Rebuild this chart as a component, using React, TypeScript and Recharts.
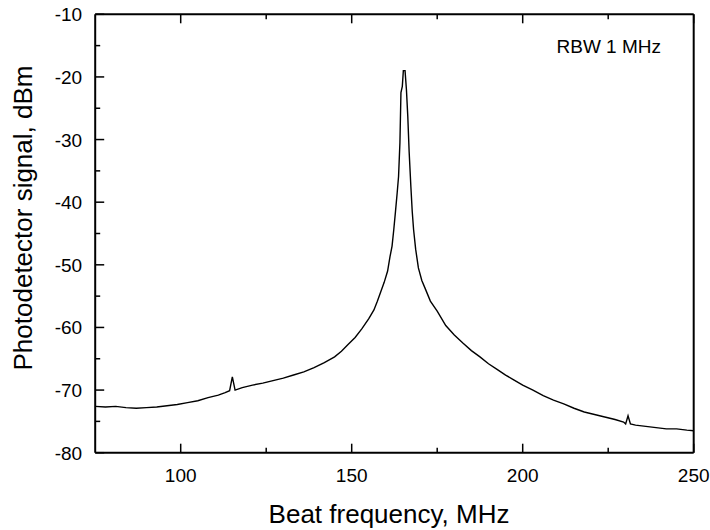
import React from "react";
import { LineChart, Line, XAxis, YAxis } from "recharts";

// beat frequency, MHz
const freq = [
  75, 78, 81, 84, 87, 90, 93, 96, 99, 102, 105, 108, 111, 113, 114.3, 115.1, 115.9, 118, 121, 124,
  127, 130, 133, 136, 139, 142, 145, 147, 149, 151, 153, 155, 156.5, 157.5, 158.5, 159.5, 160.5,
  161.2, 161.8, 162.3, 162.8, 163.3, 163.7, 164.1, 164.4, 164.8, 165.1, 165.6, 166.0, 166.4, 166.8,
  167.3, 167.7, 168.1, 168.7, 169.5, 170.5, 171.5, 173, 175, 177.5, 180, 182.5, 185, 187.5, 190,
  192.5, 195, 197.5, 200, 203, 206, 209, 212, 215, 218, 221, 224, 227, 229.5, 230.1, 230.8, 231.5,
  233, 236, 239, 242, 245, 248, 250,
];

// photodetector signal, dBm
const signal = [
  -72.6, -72.7, -72.6, -72.8, -72.9, -72.8, -72.7, -72.5, -72.3, -72.0, -71.7, -71.2, -70.8, -70.4,
  -70.1, -67.9, -70.0, -69.6, -69.2, -68.9, -68.5, -68.1, -67.6, -67.1, -66.4, -65.6, -64.7, -63.8,
  -62.7, -61.6, -60.2, -58.6, -57.2, -55.8, -54.3, -52.8, -51.0, -48.7, -47.0, -44.4, -41.5, -38.5,
  -35.9, -30.5, -22.5, -21.5, -19.0, -19.0, -22.0, -26.3, -32.0, -37.5, -41.5, -44.4, -47.5, -50.5,
  -52.5, -53.8, -55.8, -57.4, -59.7, -61.2, -62.5, -63.7, -64.7, -65.8, -66.7, -67.6, -68.4, -69.2,
  -70.0, -70.9, -71.6, -72.2, -72.9, -73.5, -73.9, -74.3, -74.7, -75.1, -75.4, -74.1, -75.4, -75.6,
  -75.8, -76.0, -76.2, -76.2, -76.4, -76.5,
];

const xTicks = [100, 125, 150, 175, 200, 225, 250];
const xLabelTicks = [100, 150, 200, 250];
const yTicks = [-80, -75, -70, -65, -60, -55, -50, -45, -40, -35, -30, -25, -20, -15, -10];
const yLabelTicks = [-80, -70, -60, -50, -40, -30, -20, -10];

const rows = freq.map((f, i) => ({ f, v: signal[i] }));

const FONT = '"Liberation Sans", Arial, sans-serif';
const MAJOR = 9;
const MINOR = 5;

function XTick({ x, y, payload, top }: any) {
  const major = xLabelTicks.includes(payload.value);
  const len = major ? MAJOR : MINOR;
  const y2 = top ? y + len : y - len;
  return (
    <g>
      <line x1={x} y1={y} x2={x} y2={y2} stroke="#000" strokeWidth={1.5} />
      {!top && major && (
        <text x={x} y={y + 29} textAnchor="middle" fontSize={19} fontFamily={FONT} fill="#000">
          {payload.value}
        </text>
      )}
    </g>
  );
}

function YTick({ x, y, payload, right }: any) {
  const major = yLabelTicks.includes(payload.value);
  const len = major ? MAJOR : MINOR;
  const x2 = right ? x - len : x + len;
  return (
    <g>
      <line x1={x} y1={y} x2={x2} y2={y} stroke="#000" strokeWidth={1.5} />
      {!right && major && (
        <text x={x - 13} y={y + 7} textAnchor="end" fontSize={19} fontFamily={FONT} fill="#000">
          {payload.value}
        </text>
      )}
    </g>
  );
}

export default function App() {
  return (
    <div style={{ position: "absolute", left: 0, top: 0 }}>
      <LineChart
        width={710}
        height={530}
        data={rows}
        margin={{ top: 13.3, right: 10.3, bottom: 47.3, left: 55.2 }}
      >
        <XAxis
          dataKey="f"
          type="number"
          domain={[75, 250]}
          ticks={xTicks}
          interval={0}
          height={30}
          tickSize={0}
          tickMargin={0}
          tickLine={false}
          axisLine={{ stroke: "#000", strokeWidth: 2 }}
          tick={(p: any) => <XTick {...p} />}
        />
        <XAxis
          xAxisId="top"
          orientation="top"
          dataKey="f"
          type="number"
          domain={[75, 250]}
          ticks={xTicks}
          interval={0}
          height={1}
          tickSize={0}
          tickMargin={0}
          tickLine={false}
          axisLine={{ stroke: "#000", strokeWidth: 2 }}
          tick={(p: any) => <XTick {...p} top />}
        />
        <YAxis
          type="number"
          domain={[-80, -10]}
          ticks={yTicks}
          interval={0}
          width={40}
          tickSize={0}
          tickMargin={0}
          tickLine={false}
          axisLine={{ stroke: "#000", strokeWidth: 2 }}
          tick={(p: any) => <YTick {...p} />}
        />
        <YAxis
          yAxisId="right"
          orientation="right"
          type="number"
          domain={[-80, -10]}
          ticks={yTicks}
          interval={0}
          width={6}
          tickSize={0}
          tickMargin={0}
          tickLine={false}
          axisLine={{ stroke: "#000", strokeWidth: 2 }}
          tick={(p: any) => <YTick {...p} right />}
        />
        <Line
          dataKey="v"
          type="linear"
          stroke="#000"
          strokeWidth={1.4}
          dot={false}
          isAnimationActive={false}
        />
        <text x={661} y={53} textAnchor="end" fontSize={19} fontFamily={FONT} fill="#000">
          RBW 1 MHz
        </text>
        <text x={389} y={523} textAnchor="middle" fontSize={26} fontFamily={FONT} fill="#000">
          Beat frequency, MHz
        </text>
        <text
          x={32}
          y={218}
          textAnchor="middle"
          fontSize={26}
          fontFamily={FONT}
          fill="#000"
          transform="rotate(-90, 32, 218)"
        >
          Photodetector signal, dBm
        </text>
      </LineChart>
    </div>
  );
}
